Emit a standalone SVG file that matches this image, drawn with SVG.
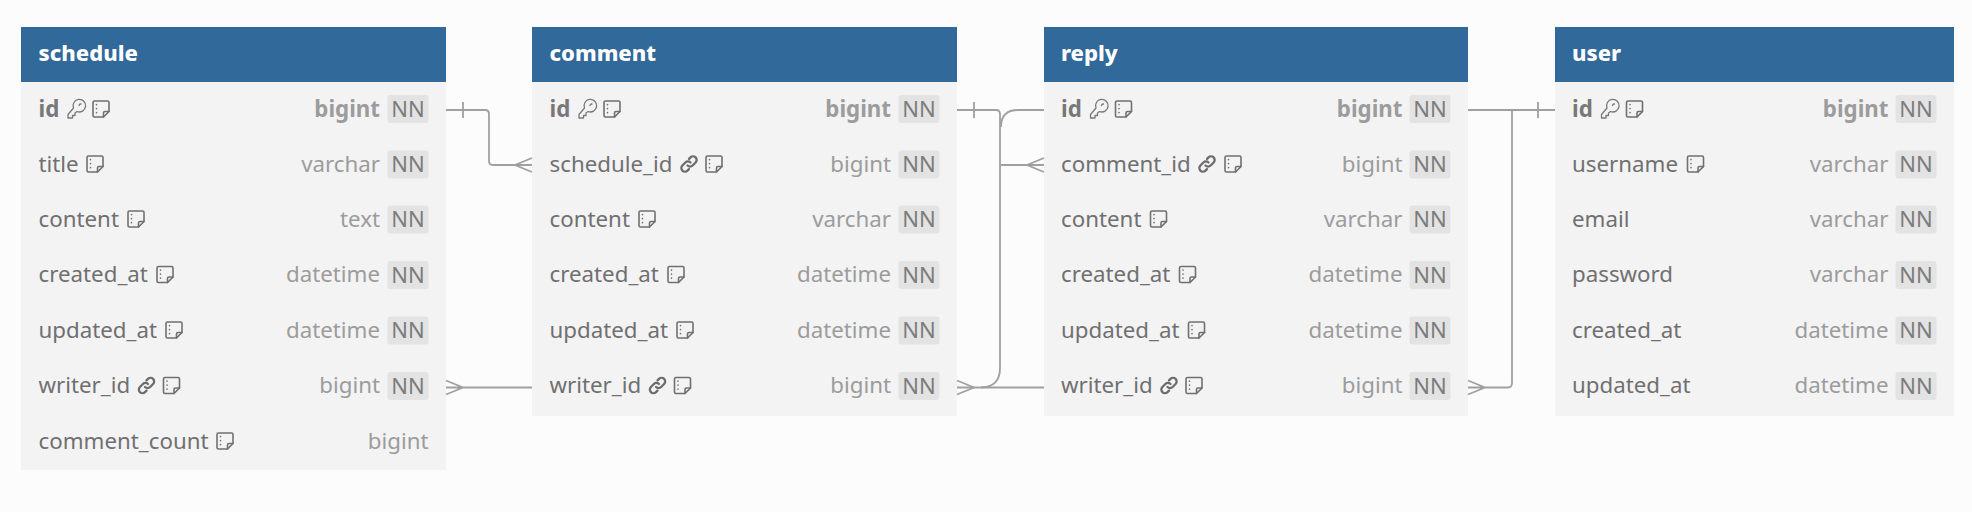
<svg xmlns="http://www.w3.org/2000/svg" width="1972" height="512" viewBox="0 0 1972 512">
<style>
text{font-family:"Noto Sans",sans-serif;font-size:22.300px}
.body{fill:#f3f3f4}.head{fill:#30699a}
.title{fill:#fff;font-weight:800;font-size:22px}
.n{fill:#707070}.pk{fill:#787878;font-weight:700}
.t{fill:#9c9c9c;text-anchor:end}.tb{fill:#9c9c9c;font-weight:700;text-anchor:end}
.nnb{fill:#e3e3e4}.nn{fill:#7c7c7c;font-size:22px;text-anchor:middle}
.ic{fill:none;stroke:#707070;stroke-width:1.600;stroke-linejoin:round;stroke-linecap:round}
.ky{fill:none;stroke:#787878;stroke-width:1.300;stroke-linejoin:round;stroke-linecap:round}
.lk{fill:none;stroke:#6c6c6c;stroke-width:2.300;stroke-linecap:round}
.c{fill:none;stroke:#a0a0a0;stroke-width:1.800}
</style>
<defs>
<g id="note" class="ic"><path d="M2.500 1h13a1.500 1.500 0 0 1 1.500 1.500V11.500L11.500 17H2.500a1.500 1.500 0 0 1-1.500-1.500V2.500A1.500 1.500 0 0 1 2.500 1Z"/><path d="M17 11.500h-4a1.500 1.500 0 0 0-1.500 1.500V17"/><path d="M4.500 4.500v.3M4.500 8.500v.3M4.500 12.500v.3"/></g>
<g id="key" class="ky"><path d="M1 14.500V18H5.500V15.500H8V13L10 11.500A6.300 6.300 0 1 0 6.500 8Z"/><path d="M12 5.500A1.800 1.800 0 0 1 14 4"/></g>
<g id="link" class="lk"><path d="M7.500 10.500a3.600 3.600 0 0 0 5.100 0l3-3a3.600 3.600 0 0 0-5.100-5.100l-1.500 1.500"/><path d="M10.500 7.500a3.600 3.600 0 0 0-5.100 0l-3 3a3.600 3.600 0 0 0 5.100 5.100l1.500-1.500"/></g>
<g id="nn"><rect class="nnb" x="-20.500" y="-14" width="41" height="28" rx="3"/><text class="nn" y="7.500">NN</text></g>
</defs>
<rect width="1972" height="512" fill="#fcfcfc"/>
<g id="schedule">
<rect class="body" x="21" y="82" width="425" height="388"/><rect class="head" x="21" y="27" width="425" height="55"/>
<text class="title" x="38.500" y="61">schedule</text>
<text class="pk" x="38.500" y="117">id</text><use href="#key" x="67" y="100"/><use href="#note" x="92" y="100"/><text class="tb" x="380" y="117">bigint</text><use href="#nn" x="408" y="109"/>
<text class="n" x="38.500" y="172">title</text><use href="#note" x="86" y="155"/><text class="t" x="380" y="172">varchar</text><use href="#nn" x="408" y="164.500"/>
<text class="n" x="38.500" y="226.500">content</text><use href="#note" x="127" y="210"/><text class="t" x="380" y="226.500">text</text><use href="#nn" x="408" y="219.500"/>
<text class="n" x="38.500" y="282">created_at</text><use href="#note" x="156" y="265.500"/><text class="t" x="380" y="282">datetime</text><use href="#nn" x="408" y="275"/>
<text class="n" x="38.500" y="337.500">updated_at</text><use href="#note" x="165" y="321"/><text class="t" x="380" y="337.500">datetime</text><use href="#nn" x="408" y="330.500"/>
<text class="n" x="38.500" y="393">writer_id</text><use href="#link" x="137.500" y="376.500"/><use href="#note" x="162.500" y="376.500"/><text class="t" x="380" y="393">bigint</text><use href="#nn" x="408" y="386"/>
<text class="n" x="38.500" y="448.500">comment_count</text><use href="#note" x="216" y="432"/><text class="t" x="428.500" y="448.500">bigint</text>
</g>
<g id="comment">
<rect class="body" x="532" y="82" width="425" height="334"/><rect class="head" x="532" y="27" width="425" height="55"/>
<text class="title" x="549.500" y="61">comment</text>
<text class="pk" x="549.500" y="117">id</text><use href="#key" x="578" y="100"/><use href="#note" x="603" y="100"/><text class="tb" x="891" y="117">bigint</text><use href="#nn" x="919" y="109"/>
<text class="n" x="549.500" y="172">schedule_id</text><use href="#link" x="680" y="155"/><use href="#note" x="705" y="155"/><text class="t" x="891" y="172">bigint</text><use href="#nn" x="919" y="164.500"/>
<text class="n" x="549.500" y="226.500">content</text><use href="#note" x="638" y="210"/><text class="t" x="891" y="226.500">varchar</text><use href="#nn" x="919" y="219.500"/>
<text class="n" x="549.500" y="282">created_at</text><use href="#note" x="667" y="265.500"/><text class="t" x="891" y="282">datetime</text><use href="#nn" x="919" y="275"/>
<text class="n" x="549.500" y="337.500">updated_at</text><use href="#note" x="676" y="321"/><text class="t" x="891" y="337.500">datetime</text><use href="#nn" x="919" y="330.500"/>
<text class="n" x="549.500" y="393">writer_id</text><use href="#link" x="648.500" y="376.500"/><use href="#note" x="673.500" y="376.500"/><text class="t" x="891" y="393">bigint</text><use href="#nn" x="919" y="386"/>
</g>
<g id="reply">
<rect class="body" x="1044" y="82" width="424" height="334"/><rect class="head" x="1044" y="27" width="424" height="55"/>
<text class="title" x="1061" y="61">reply</text>
<text class="pk" x="1061" y="117">id</text><use href="#key" x="1089.500" y="100"/><use href="#note" x="1114.500" y="100"/><text class="tb" x="1402.500" y="117">bigint</text><use href="#nn" x="1430" y="109"/>
<text class="n" x="1061" y="172">comment_id</text><use href="#link" x="1198" y="155"/><use href="#note" x="1224" y="155"/><text class="t" x="1402.500" y="172">bigint</text><use href="#nn" x="1430" y="164.500"/>
<text class="n" x="1061" y="226.500">content</text><use href="#note" x="1149.500" y="210"/><text class="t" x="1402.500" y="226.500">varchar</text><use href="#nn" x="1430" y="219.500"/>
<text class="n" x="1061" y="282">created_at</text><use href="#note" x="1178.500" y="265.500"/><text class="t" x="1402.500" y="282">datetime</text><use href="#nn" x="1430" y="275"/>
<text class="n" x="1061" y="337.500">updated_at</text><use href="#note" x="1187.500" y="321"/><text class="t" x="1402.500" y="337.500">datetime</text><use href="#nn" x="1430" y="330.500"/>
<text class="n" x="1061" y="393">writer_id</text><use href="#link" x="1160" y="376.500"/><use href="#note" x="1185" y="376.500"/><text class="t" x="1402.500" y="393">bigint</text><use href="#nn" x="1430" y="386"/>
</g>
<g id="user">
<rect class="body" x="1555" y="82" width="399" height="334"/><rect class="head" x="1555" y="27" width="399" height="55"/>
<text class="title" x="1572" y="61">user</text>
<text class="pk" x="1572" y="117">id</text><use href="#key" x="1600.500" y="100"/><use href="#note" x="1625.500" y="100"/><text class="tb" x="1888.500" y="117">bigint</text><use href="#nn" x="1916" y="109"/>
<text class="n" x="1572" y="172">username</text><use href="#note" x="1686.500" y="155"/><text class="t" x="1888.500" y="172">varchar</text><use href="#nn" x="1916" y="164.500"/>
<text class="n" x="1572" y="226.500">email</text><text class="t" x="1888.500" y="226.500">varchar</text><use href="#nn" x="1916" y="219.500"/>
<text class="n" x="1572" y="282">password</text><text class="t" x="1888.500" y="282">varchar</text><use href="#nn" x="1916" y="275"/>
<text class="n" x="1572" y="337.500">created_at</text><text class="t" x="1888.500" y="337.500">datetime</text><use href="#nn" x="1916" y="330.500"/>
<text class="n" x="1572" y="393">updated_at</text><text class="t" x="1888.500" y="393">datetime</text><use href="#nn" x="1916" y="386"/>
</g>
<g id="connectors">
<path class="c" d="M446 110H485q4 0 4 4V161q0 4 4 4H532M463 102v16M532 158l-17 7 17 7"/>
<path class="c" d="M532 387.500H446M446 380.500l17 7-17 7"/>
<path class="c" d="M957 110H996q4 0 4 4V368q0 19-19 19.500M974 102v16M957 380.500l17 7-17 7"/>
<path class="c" d="M1044 110H1018q-17 0-17 17M1001 165H1044M1044 158l-17 7 17 7"/>
<path class="c" d="M1044 387.500H957"/>
<path class="c" d="M1468 110H1555M1538 102v16M1512 110V383q0 4.500-4 4.500H1468M1468 380.500l17 7-17 7"/>
</g>
</svg>
